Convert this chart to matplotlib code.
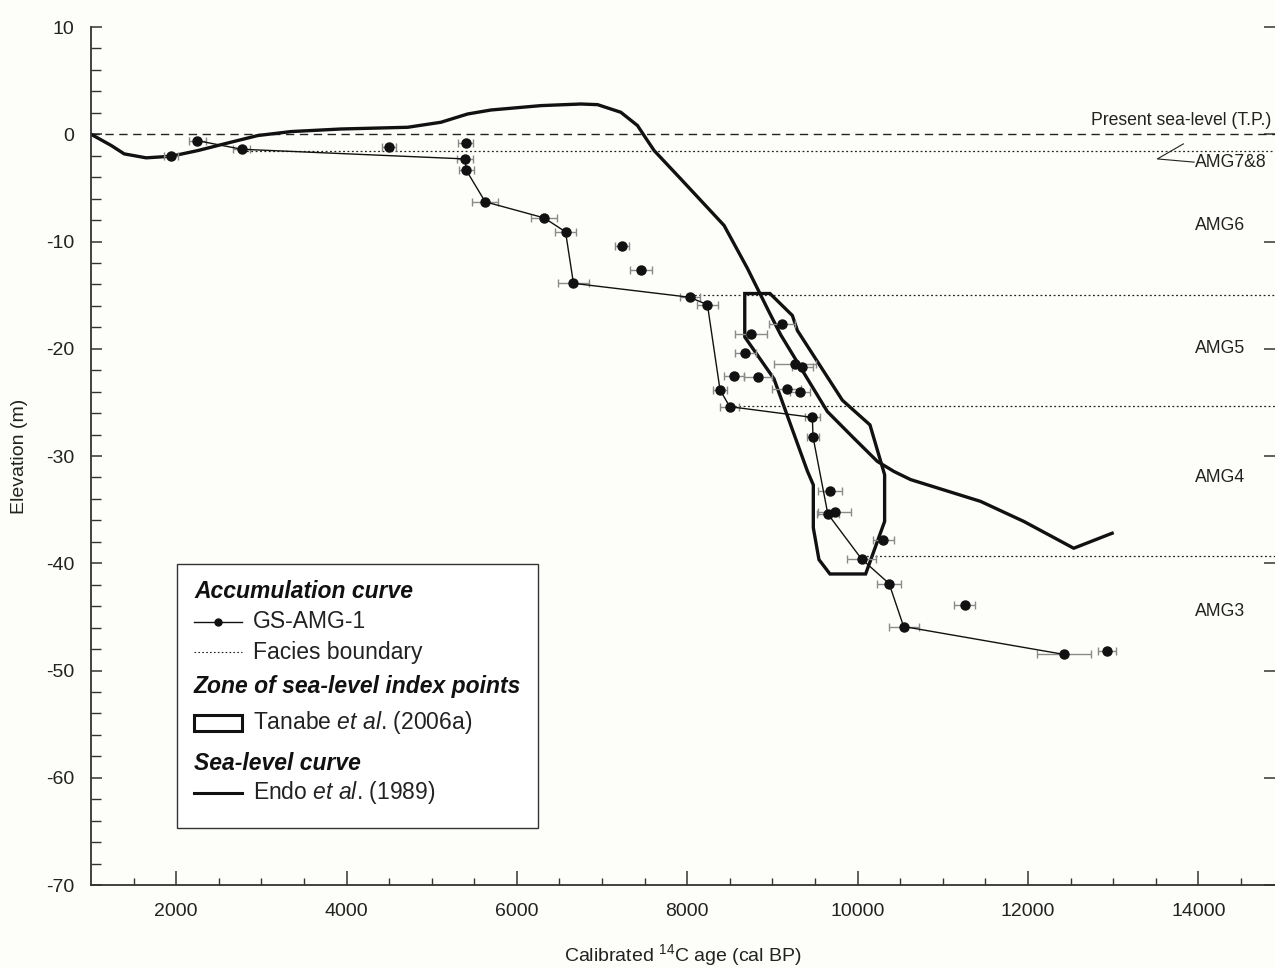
#Accumulation curve of core GS-AMG-1 against sea-level curve and index point zone
import numpy as np
import matplotlib.pyplot as plt
from matplotlib.lines import Line2D
from matplotlib.patches import Rectangle, Polygon

plt.rcParams['font.family'] = ['Liberation Sans', 'DejaVu Sans']
plt.rcParams['mathtext.fontset'] = 'custom'
plt.rcParams['mathtext.rm'] = 'Liberation Sans'
plt.rcParams['mathtext.it'] = 'Liberation Sans:italic'
plt.rcParams['axes.unicode_minus'] = False

#connected samples (age cal BP, elevation m, half error)
acc_age = [2250, 2770, 5390, 5405, 5628, 6320, 6571, 6664, 8030, 8237, 8385, 8499,
           9469, 9476, 9650, 10046, 10370, 10540, 12423]
acc_elev = [-0.6, -1.4, -2.3, -3.35, -6.3, -7.8, -9.1, -13.9, -15.2, -15.9, -23.85, -25.4,
            -26.4, -28.2, -35.4, -39.6, -41.9, -45.9, -48.5]
acc_err = [100, 100, 90, 90, 150, 150, 125, 185, 120, 120, 85, 110,
           90, 70, 130, 175, 140, 175, 320]

#samples not on the curve
other_age = [1940, 4500, 5400, 7235, 7455, 9110, 8750, 8680, 9267, 9350, 8548, 8829,
             9166, 9323, 9675, 9730, 10300, 11257, 12930]
other_elev = [-2.0, -1.2, -0.8, -10.4, -12.7, -17.7, -18.6, -20.4, -21.4, -21.7, -22.5, -22.6,
              -23.75, -24.0, -33.3, -35.25, -37.8, -43.9, -48.2]
other_err = [85, 85, 90, 85, 130, 150, 185, 125, 250, 125, 115, 165,
             170, 115, 140, 195, 125, 120, 105]

#Endo et al. (1989) sea-level curve
sl_age = [1000, 1238, 1390, 1648, 1941, 2255, 2563, 2958, 3349, 3935, 4718, 5109, 5422, 5695,
          6282, 6751, 6947, 7220, 7416, 7493, 7611, 7923, 8432, 8706, 8960, 9097, 9645, 9957,
          10231, 10426, 10622, 11443, 11951, 12537, 12988]
sl_elev = [0.0, -1.05, -1.83, -2.2, -2.05, -1.52, -0.9, -0.12, 0.25, 0.49, 0.65, 1.12, 1.89, 2.26,
           2.67, 2.82, 2.76, 2.05, 0.81, -0.12, -1.52, -4.16, -8.5, -12.5, -16.56, -18.7, -25.86, -28.35,
           -30.5, -31.44, -32.2, -34.23, -36.1, -38.6, -37.2]

#Tanabe et al. (2006a) zone of sea-level index points
zone_age = [8675, 8971, 9234, 9293, 9821, 10145, 10317, 10317, 10094, 9675, 9546, 9480,
            9480, 9410, 9018, 8675]
zone_elev = [-14.85, -14.85, -16.9, -18.3, -24.8, -27.1, -31.75, -36.1, -41.0, -41.0, -39.66, -36.7,
             -32.7, -31.4, -22.8, -18.9]

#facies boundaries (elevation, age where line starts)
facies_elev = [-1.6, -15.0, -25.3, -39.35]
facies_start = [2770, 8030, 8499, 10046]

#unit labels
unit_names = ['AMG6', 'AMG5', 'AMG4', 'AMG3']
unit_elev = [-8.5, -20.0, -32.0, -44.5]

bg = '#fdfdf9'
fig = plt.figure(figsize=(12.75, 9.68), dpi=100, facecolor=bg)
ax = fig.add_axes([91/1275, 1-885/968, (1275-91)/1275, (885-27)/968])
ax.set_facecolor(bg)
xmin, xmax = 1000, 14900
ax.set_xlim(xmin, xmax)
ax.set_ylim(-70, 10)

#present sea level and facies boundaries
ax.plot([xmin, xmax], [0, 0], color='#222222', lw=1.0, ls=(0, (6, 4)))
for e, s in zip(facies_elev, facies_start):
    ax.plot([s, xmax], [e, e], color='#222222', lw=0.9, ls=(0, (1.5, 2)))

#zone polygon
ax.add_patch(Polygon(np.column_stack([zone_age, zone_elev]), closed=True, fill=False,
                     edgecolor='#111111', lw=2.4, joinstyle='miter'))

#sea-level curve
ax.plot(sl_age, sl_elev, color='#111111', lw=2.4, solid_joinstyle='round')

#accumulation curve and other samples
ax.errorbar(acc_age, acc_elev, xerr=acc_err, fmt='none', ecolor='#8a8a8a', elinewidth=1, capsize=3)
ax.errorbar(other_age, other_elev, xerr=other_err, fmt='none', ecolor='#8a8a8a', elinewidth=1, capsize=3)
ax.plot(acc_age, acc_elev, color='#111111', lw=1.0, marker='o', ms=6.5)
ax.plot(other_age, other_elev, ls='none', color='#111111', marker='o', ms=6.5)

#labels on the right
lab = dict(fontsize=12.7, color='#222222')
ax.text(14860, 0.45, 'Present sea-level (T.P.)', ha='right', va='bottom', **lab)
ax.text(13960, -2.6, 'AMG7&8', ha='left', va='center', **lab)
ax.plot([13950, 13519, 13824], [-2.6, -2.3, -0.9], color='#222222', lw=0.8)
for n, e in zip(unit_names, unit_elev):
    ax.text(14260, e, n, ha='center', va='center', **lab)

#axes styling
for side in ['top', 'right']:
    ax.spines[side].set_visible(False)
for side in ['left', 'bottom']:
    ax.spines[side].set_color('#333333')
    ax.spines[side].set_linewidth(1.3)
ax.set_xticks(np.arange(2000, 14001, 2000))
ax.set_xticks(np.arange(1500, 14901, 500), minor=True)
ax.set_yticks(np.arange(-70, 11, 10))
ax.set_yticks(np.arange(-70, 11, 2), minor=True)
ax.tick_params(axis='x', which='major', direction='in', length=10, width=1.1, color='#333333',
               pad=13, labelsize=14, labelcolor='#222222')
ax.tick_params(axis='x', which='minor', direction='in', length=5, width=1.0, color='#333333')
ax.tick_params(axis='y', which='major', direction='in', length=8, width=1.1, color='#333333',
               pad=12, labelsize=14, labelcolor='#222222', right=True)
ax.tick_params(axis='y', which='minor', direction='in', length=7, width=1.0, color='#333333')

fig.text(683/1275, 1-955/968, 'Calibrated $^{14}$C age (cal BP)', ha='center', va='center',
         fontsize=14, color='#222222')
fig.text(20/1275, 1-456/968, 'Elevation (m)', ha='center', va='center', rotation=90,
         fontsize=14, color='#222222')

#legend box drawn by hand
def axp(px, py):
    return ((px - 91) / 1184, (885 - py) / 858)

x0, y0 = axp(177, 828)
x1, y1 = axp(538, 564)
ax.add_patch(Rectangle((x0, y0), x1 - x0, y1 - y0, transform=ax.transAxes, facecolor='white',
                       edgecolor='#333333', lw=1.0, zorder=5))
head = dict(transform=ax.transAxes, fontsize=16.5, fontweight='bold', fontstyle='italic',
            va='center', ha='left', color='#111111', zorder=6)
item = dict(transform=ax.transAxes, fontsize=16.5, va='center', ha='left', color='#222222', zorder=6)
lx0 = axp(194, 0)[0]
lx1 = axp(242, 0)[0]
tx = axp(253, 0)[0]

yy = axp(0, 592)[1]
ax.text(lx0, yy, 'Accumulation curve', **head)
yy = axp(0, 622)[1]
ax.add_line(Line2D([lx0, lx1], [yy, yy], transform=ax.transAxes, color='#111111', lw=1.0, zorder=6))
ax.add_line(Line2D([axp(218, 0)[0]], [yy], transform=ax.transAxes, color='#111111', marker='o', ms=5, zorder=6))
ax.text(tx, yy, 'GS-AMG-1', **item)
yy = axp(0, 652)[1]
ax.add_line(Line2D([lx0, lx1], [yy, yy], transform=ax.transAxes, color='#222222', lw=0.8,
                   ls=(0, (1.5, 2)), zorder=6))
ax.text(tx, yy, 'Facies boundary', **item)
yy = axp(0, 686)[1]
ax.text(lx0, yy, 'Zone of sea-level index points', **head)
rx0, ry0 = axp(194, 731)
rx1, ry1 = axp(242, 715)
ax.add_patch(Rectangle((rx0, ry0), rx1 - rx0, ry1 - ry0, transform=ax.transAxes, fill=False,
                       edgecolor='#111111', lw=2.2, zorder=6))
yy = axp(0, 722)[1]
ax.text(tx, yy, 'Tanabe $\\it{et\\ al}$. (2006a)', **item)
yy = axp(0, 763)[1]
ax.text(lx0, yy, 'Sea-level curve', **head)
yy = axp(0, 793)[1]
ax.add_line(Line2D([lx0, lx1], [yy, yy], transform=ax.transAxes, color='#111111', lw=2.2, zorder=6))
ax.text(tx, yy, 'Endo $\\it{et\\ al}$. (1989)', **item)

fig.savefig('out.png', dpi=100, facecolor=bg)
